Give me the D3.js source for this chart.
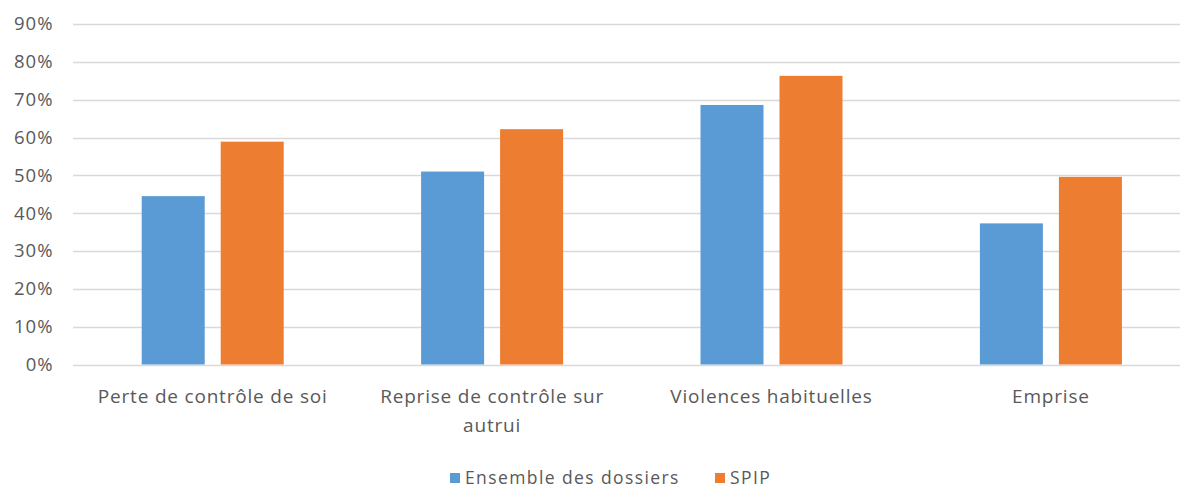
<!DOCTYPE html>
<html>
<head>
<meta charset="utf-8">
<script src="https://cdn.jsdelivr.net/npm/d3@7"></script>
<style>
  html, body { margin: 0; padding: 0; background: #fff; }
  svg { display: block; }
  text { font-family: "Open Sans", "Noto Sans", sans-serif; fill: #595959; }
</style>
</head>
<body>
<svg id="chart" width="1180" height="487"></svg>
<script>
// Categories, series and values
const categories = [
  "Perte de contrôle de soi",
  "Reprise de contrôle sur autrui",
  "Violences habituelles",
  "Emprise"
];
const seriesNames = ["Ensemble des dossiers", "SPIP"];
const ensembleValues = [0.445, 0.51, 0.686, 0.373];
const spipValues = [0.589, 0.622, 0.763, 0.496];
const yTicks = [0, 0.1, 0.2, 0.3, 0.4, 0.5, 0.6, 0.7, 0.8, 0.9];
const colors = ["#5B9BD5", "#ED7D31"];

const rows = categories.map((c, i) => ({
  category: c,
  values: [ensembleValues[i], spipValues[i]]
}));

const svg = d3.select("#chart");
const plotLeft = 73, bandStep = 279.4;
const plotTop = 24, plotBottom = 364.5;

const y = d3.scaleLinear().domain([0, 0.9]).range([plotBottom, plotTop]);
const x0 = d3.scaleBand()
  .domain(categories)
  .range([plotLeft, plotLeft + bandStep * categories.length])
  .padding(0);
const x1 = d3.scaleBand()
  .domain(seriesNames)
  .range([68.7, bandStep - 68.7])
  .paddingInner(0.2025)
  .paddingOuter(0);

// Horizontal gridlines
svg.append("g")
  .selectAll("line")
  .data(yTicks)
  .join("line")
  .attr("x1", plotLeft)
  .attr("x2", 1180)
  .attr("y1", d => Math.round(y(d)) + 0.5)
  .attr("y2", d => Math.round(y(d)) + 0.5)
  .attr("stroke", "#D9D9D9")
  .attr("stroke-width", 1.3);

// Y axis labels
const yAxis = d3.axisLeft(y)
  .tickValues(yTicks)
  .tickFormat(d3.format(".0%"))
  .tickSize(0)
  .tickPadding(0);
const yg = svg.append("g")
  .attr("transform", "translate(53.5,0)")
  .call(yAxis);
yg.select(".domain").remove();
yg.selectAll("text")
  .attr("font-size", 18.5)
  .attr("letter-spacing", 1)
  .attr("font-family", "'Open Sans', sans-serif")
  .attr("fill", "#595959");

// Bars
const groups = svg.append("g")
  .selectAll("g")
  .data(rows)
  .join("g")
  .attr("transform", d => `translate(${x0(d.category)},0)`);

groups.selectAll("rect")
  .data(d => d.values.map((v, i) => ({ key: seriesNames[i], value: v, i })))
  .join("rect")
  .attr("x", d => x1(d.key))
  .attr("width", x1.bandwidth())
  .attr("y", d => y(d.value))
  .attr("height", d => y(0) - y(d.value))
  .attr("fill", d => colors[d.i]);

// Category labels with wrapping
const xAxis = d3.axisBottom(x0).tickSize(0).tickPadding(0);
const xg = svg.append("g")
  .attr("transform", `translate(0,${plotBottom})`)
  .call(xAxis);
xg.select(".domain").remove();
xg.selectAll("text")
  .attr("font-size", 19)
  .attr("letter-spacing", 0.8)
  .attr("font-family", "'Open Sans', sans-serif")
  .attr("fill", "#595959")
  .attr("y", 0)
  .attr("dy", null)
  .each(function() { wrap(d3.select(this), 250); });

function wrap(text, width) {
  const words = text.text().split(/\s+/);
  text.text(null);
  let line = [];
  let lineNo = 0;
  let tspan = text.append("tspan").attr("x", 0).attr("y", 38.5);
  for (const w of words) {
    line.push(w);
    tspan.text(line.join(" "));
    if (tspan.node().getComputedTextLength() > width && line.length > 1) {
      line.pop();
      tspan.text(line.join(" "));
      line = [w];
      lineNo++;
      tspan = text.append("tspan").attr("x", 0).attr("y", 38.5 + lineNo * 29).text(w);
    }
  }
}

// Legend
const legendItems = [
  { name: seriesNames[0], x: 450 },
  { name: seriesNames[1], x: 715 }
];
const lg = svg.append("g")
  .selectAll("g")
  .data(legendItems)
  .join("g")
  .attr("transform", d => `translate(${d.x},473)`);
lg.append("rect")
  .attr("width", 10)
  .attr("height", 10)
  .attr("fill", (d, i) => colors[i]);
lg.append("text")
  .attr("x", 15)
  .attr("y", 10.5)
  .attr("font-size", 17.5)
  .attr("letter-spacing", 1.4)
  .text(d => d.name);
</script>
</body>
</html>
